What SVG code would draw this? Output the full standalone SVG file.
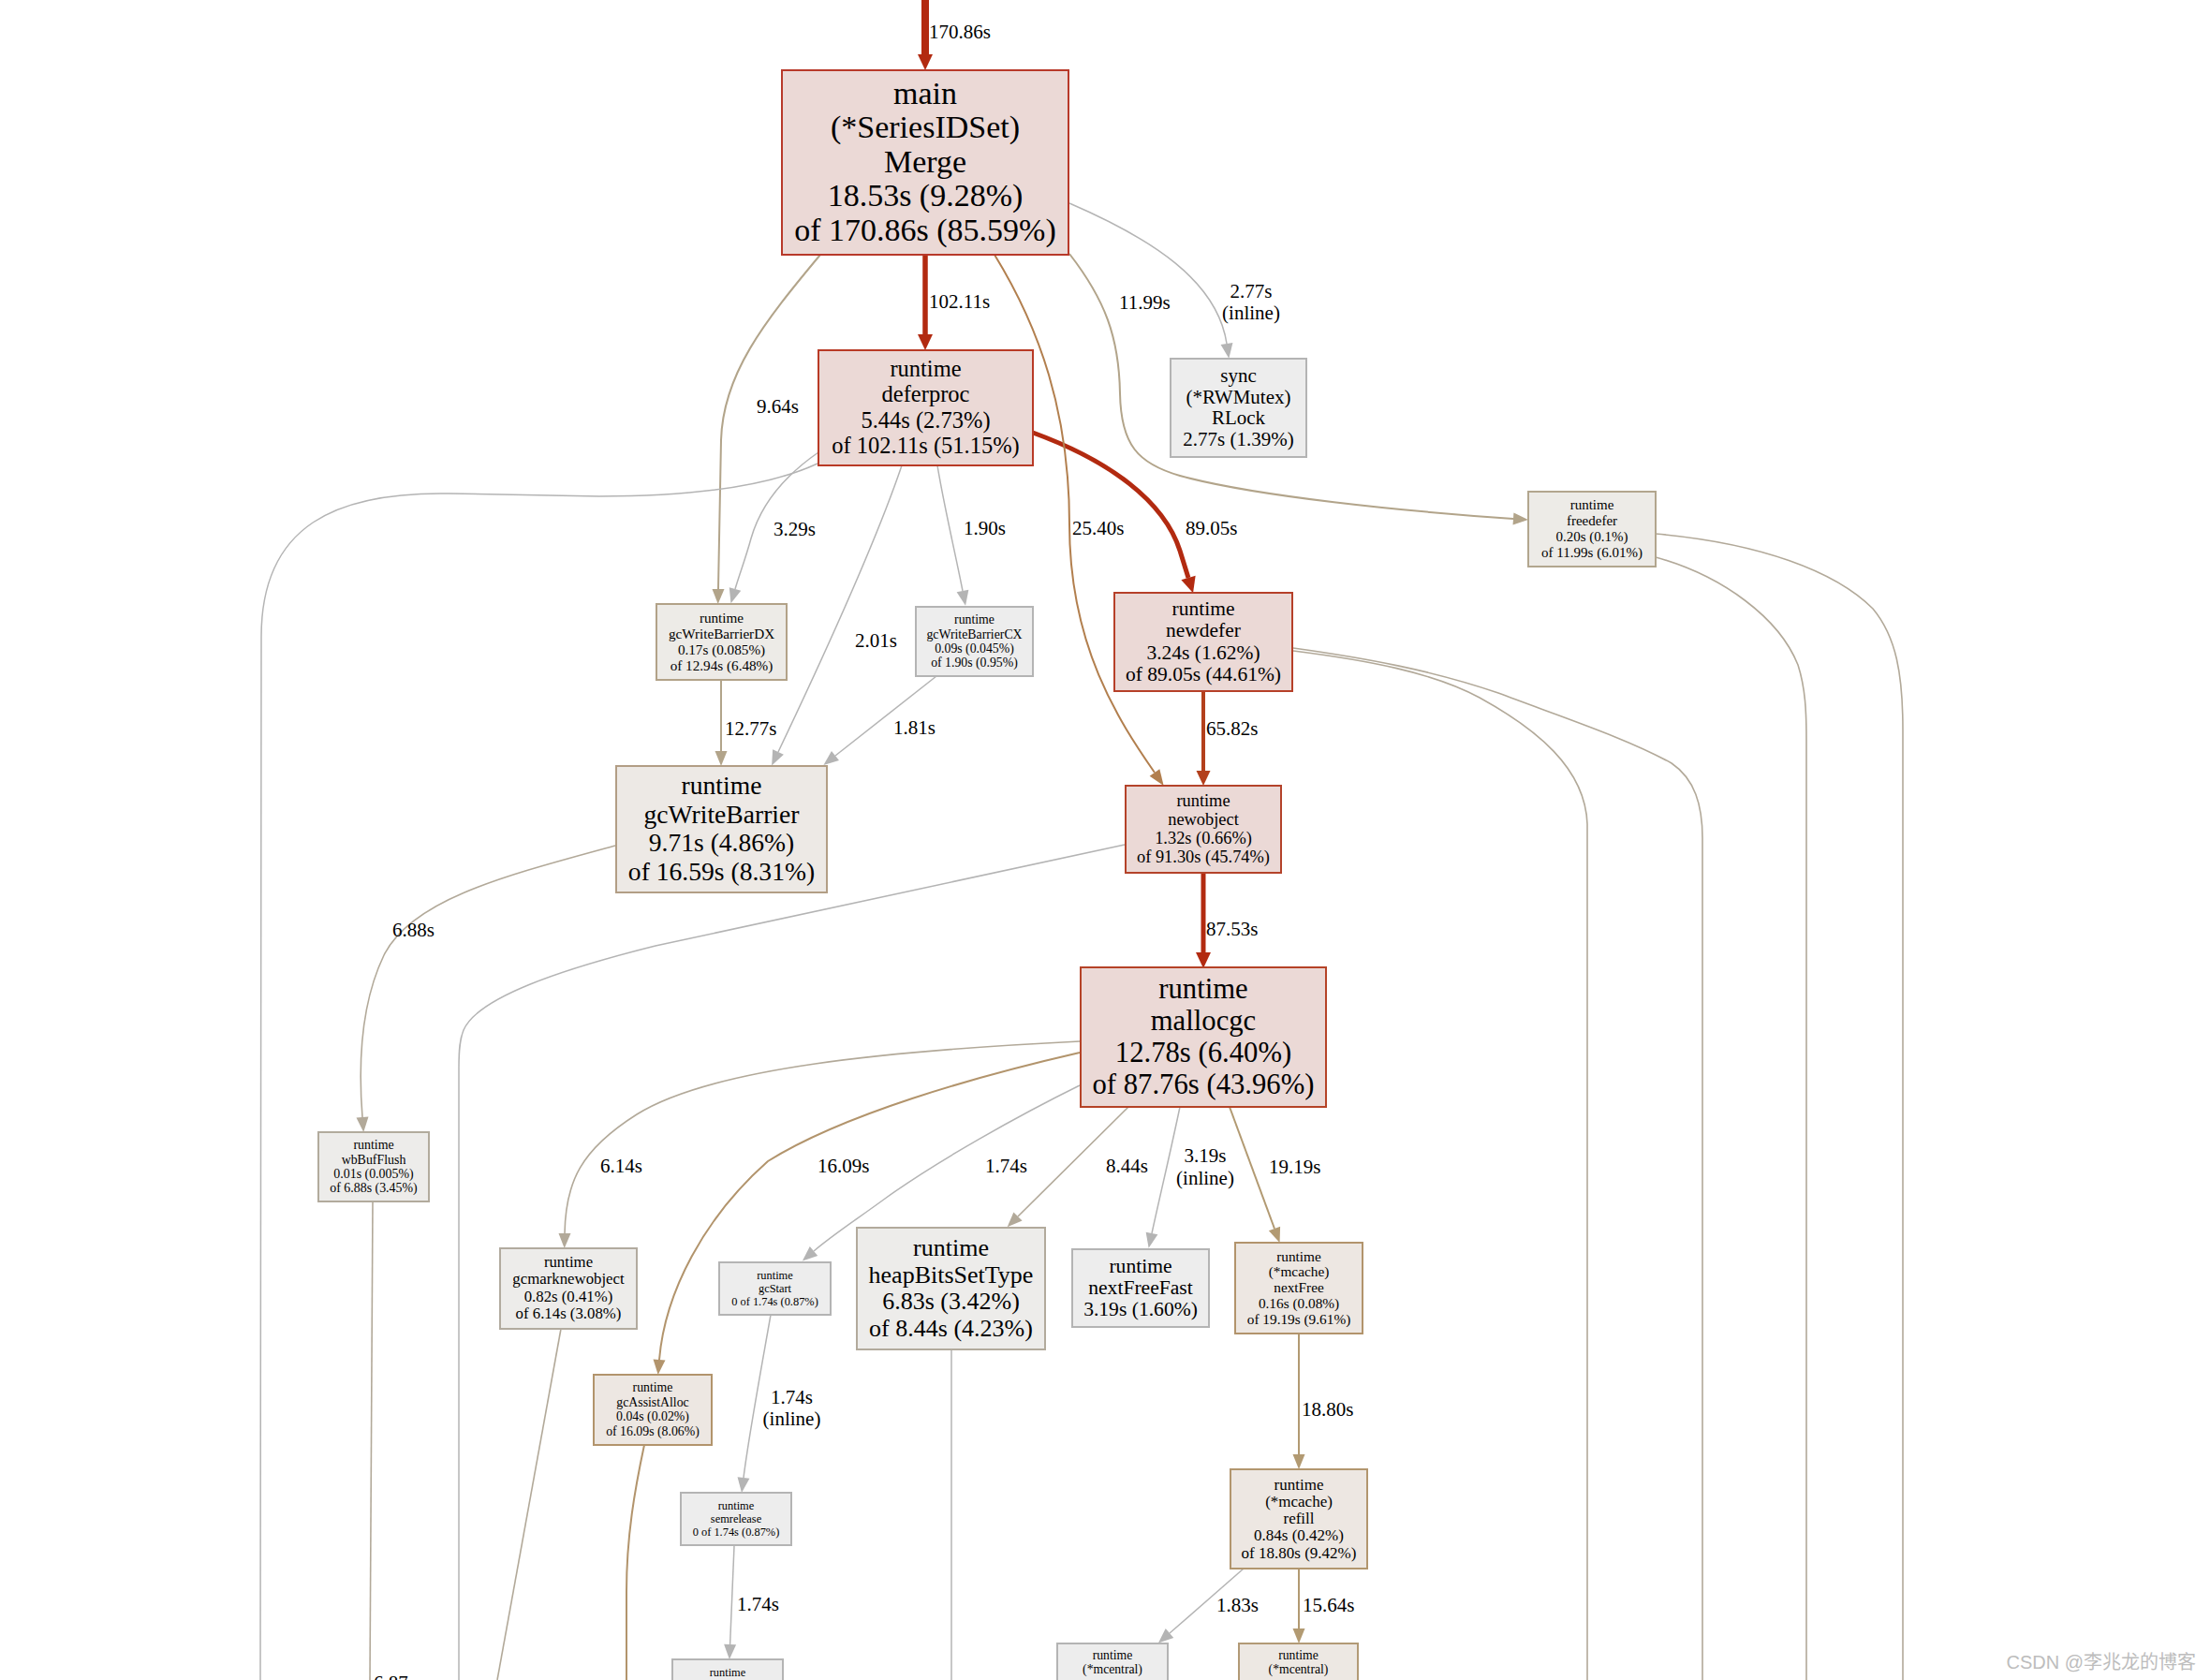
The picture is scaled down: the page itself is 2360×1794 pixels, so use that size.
<svg xmlns="http://www.w3.org/2000/svg" width="2360" height="1794" viewBox="0 0 2360 1794">
<style>
text{font-family:"Liberation Serif","Times New Roman",serif;fill:#000}
.node text{text-anchor:middle}
.node rect{stroke-width:2}
.lbl{font-size:21px}
.mid{text-anchor:middle}
.e{fill:none}
.red{stroke:#b22a10}
.red2{stroke:#b3401c}
.cop{stroke:#b27f4e;stroke-width:2}
.br{stroke:#b2946c;stroke-width:2}
.br2{stroke:#b29a72;stroke-width:2}
.tan{stroke:#b2a48a;stroke-width:2}
.tg{stroke:#b2a999;stroke-width:1.6}
.gr{stroke:#b4b4b4;stroke-width:1.5}
.hot{fill:#ebd9d6}
.gray{fill:#ededed;stroke:#b4b4b4}
.tanf{fill:#edebe7}
.brf{fill:#ede7e2}
</style>
<defs>
<marker id="mRed" markerUnits="userSpaceOnUse" markerWidth="20" markerHeight="20" viewBox="0 -10 20 20" refX="0" refY="0" orient="auto" overflow="visible"><path d="M0,-8L17,0L0,8z" fill="#b22a10"/></marker>
<marker id="mRed2" markerUnits="userSpaceOnUse" markerWidth="20" markerHeight="20" viewBox="0 -10 20 20" refX="0" refY="0" orient="auto" overflow="visible"><path d="M0,-7.5L16,0L0,7.5z" fill="#b3401c"/></marker>
<marker id="mCop" markerUnits="userSpaceOnUse" markerWidth="20" markerHeight="20" viewBox="0 -10 20 20" refX="0" refY="0" orient="auto" overflow="visible"><path d="M0,-6.5L17,0L0,6.5z" fill="#b27f4e"/></marker>
<marker id="mBr" markerUnits="userSpaceOnUse" markerWidth="20" markerHeight="20" viewBox="0 -10 20 20" refX="0" refY="0" orient="auto" overflow="visible"><path d="M0,-6.5L16,0L0,6.5z" fill="#b2946c"/></marker>
<marker id="mBr2" markerUnits="userSpaceOnUse" markerWidth="20" markerHeight="20" viewBox="0 -10 20 20" refX="0" refY="0" orient="auto" overflow="visible"><path d="M0,-6.5L16,0L0,6.5z" fill="#b29a72"/></marker>
<marker id="mTan" markerUnits="userSpaceOnUse" markerWidth="20" markerHeight="20" viewBox="0 -10 20 20" refX="0" refY="0" orient="auto" overflow="visible"><path d="M0,-6.5L16,0L0,6.5z" fill="#b2a48a"/></marker>
<marker id="mTg" markerUnits="userSpaceOnUse" markerWidth="20" markerHeight="20" viewBox="0 -10 20 20" refX="0" refY="0" orient="auto" overflow="visible"><path d="M0,-6.5L16,0L0,6.5z" fill="#b2a999"/></marker>
<marker id="mGr" markerUnits="userSpaceOnUse" markerWidth="20" markerHeight="20" viewBox="0 -10 20 20" refX="0" refY="0" orient="auto" overflow="visible"><path d="M0,-6.5L16,0L0,6.5z" fill="#b4b4b4"/></marker>
</defs>
<rect width="2360" height="1794" fill="#fff"/>

<g id="edges">
<path class="e red" stroke-width="8" d="M988,0 L988,58" marker-end="url(#mRed)"/>
<path class="e red" stroke-width="5.5" d="M988,272 L988,357" marker-end="url(#mRed)"/>
<path class="e red" stroke-width="5" d="M1103,462 C1185,492 1243,535 1260,588 L1269,617" marker-end="url(#mRed)"/>
<path class="e tan" d="M876,272 C815,345 772,400 770,470 L767,629" marker-end="url(#mTan)"/>
<path class="e gr" d="M874,483 C835,510 812,540 802,575 C796,597 790,612 785,629" marker-end="url(#mGr)"/>
<path class="e gr" d="M963,497 C935,580 880,700 831,803" marker-end="url(#mGr)"/>
<path class="e gr" d="M1001,497 C1008,540 1020,590 1028,631" marker-end="url(#mGr)"/>
<path class="e cop" d="M1062,272 C1110,350 1142,440 1142,560 C1142,690 1195,770 1233,825" marker-end="url(#mCop)"/>
<path class="e tan" d="M1142,271 C1180,320 1195,360 1196,420 C1197,475 1215,495 1260,508 C1340,530 1500,546 1616,554" marker-end="url(#mTan)"/>
<path class="e gr" d="M1142,217 C1230,255 1300,300 1310,367" marker-end="url(#mGr)"/>
<path class="e red2" stroke-width="4" d="M1285,738 L1285,823" marker-end="url(#mRed2)"/>
<path class="e red" stroke-width="5" d="M1285,932 L1285,1017" marker-end="url(#mRed)"/>
<path class="e tan" d="M770,726 L770,802" marker-end="url(#mTan)"/>
<path class="e gr" d="M1000,722 L892,807" marker-end="url(#mGr)"/>
<path class="e gr" d="M873,495 C830,515 760,530 640,530 L480,527 C360,525 279,560 279,680 L278,1794"/>
<path class="e gr" d="M1201,902 C1000,945 820,985 700,1010 C600,1035 510,1065 495,1100 C491,1110 490,1120 490,1140 L490,1794"/>
<path class="e tg" d="M657,903 C540,935 440,960 410,1020 C387,1068 382,1130 387,1193" marker-end="url(#mTg)"/>
<path class="e tg" d="M398,1283 L395,1794"/>
<path class="e tg" d="M1153,1112 C950,1122 760,1140 680,1190 C620,1228 604,1262 603,1317" marker-end="url(#mTg)"/>
<path class="e br" d="M1153,1124 C1040,1150 900,1190 820,1240 C752,1300 710,1380 704,1452" marker-end="url(#mBr)"/>
<path class="e gr" d="M1153,1159 C1090,1190 1000,1240 945,1280 C915,1302 890,1318 869,1336" marker-end="url(#mGr)"/>
<path class="e tg" d="M1205,1182 L1087,1299" marker-end="url(#mTg)"/>
<path class="e gr" d="M1260,1182 C1250,1230 1238,1280 1230,1317" marker-end="url(#mGr)"/>
<path class="e br2" d="M1313,1182 L1361,1312" marker-end="url(#mBr2)"/>
<path class="e gr" d="M823,1404 C815,1450 800,1530 794,1578" marker-end="url(#mGr)"/>
<path class="e gr" d="M784,1651 L779.6,1756" marker-end="url(#mGr)"/>
<path class="e br2" d="M1387,1424 L1387,1553" marker-end="url(#mBr2)"/>
<path class="e gr" d="M1328,1675 L1249,1744" marker-end="url(#mGr)"/>
<path class="e br2" d="M1387,1675 L1387,1739" marker-end="url(#mBr2)"/>
<path class="e gr" d="M1016,1441 L1016,1794"/>
<path class="e tg" d="M599,1419 L531,1794"/>
<path class="e br" d="M688,1543 C678,1590 669,1640 669,1700 L669,1794"/>
<path class="e tg" d="M1381,695 C1460,705 1530,718 1580,745 C1640,778 1693,820 1695,880 L1695,1794"/>
<path class="e tg" d="M1381,692 C1460,703 1530,716 1600,740 C1680,770 1740,790 1785,815 C1810,832 1818,860 1818,895 L1818,1794"/>
<path class="e tg" d="M1768,595 C1840,615 1900,660 1920,710 C1928,735 1929,760 1929,790 L1929,1794"/>
<path class="e tg" d="M1768,570 C1880,580 1960,610 2000,650 C2025,680 2032,720 2032,780 L2032,1794"/>

<g class="lbl">
<text x="992" y="41">170.86s</text>
<text x="992" y="329">102.11s</text>
<text x="808" y="441">9.64s</text>
<text x="1195" y="329.5">11.99s</text>
<text x="1336" y="318" class="mid">2.77s</text>
<text x="1336" y="341" class="mid">(inline)</text>
<text x="826" y="571.5">3.29s</text>
<text x="1029" y="571">1.90s</text>
<text x="1145" y="571">25.40s</text>
<text x="1266" y="571">89.05s</text>
<text x="913" y="691">2.01s</text>
<text x="774" y="785">12.77s</text>
<text x="954" y="784">1.81s</text>
<text x="1288" y="784.5">65.82s</text>
<text x="1288" y="999">87.53s</text>
<text x="419" y="999.5">6.88s</text>
<text x="641" y="1252">6.14s</text>
<text x="873" y="1252">16.09s</text>
<text x="1052" y="1252">1.74s</text>
<text x="1181" y="1252">8.44s</text>
<text x="1287" y="1240.5" class="mid">3.19s</text>
<text x="1287" y="1264.5" class="mid">(inline)</text>
<text x="1355" y="1252.5">19.19s</text>
<text x="845.5" y="1499" class="mid">1.74s</text>
<text x="845.5" y="1522" class="mid">(inline)</text>
<text x="1390" y="1511.5">18.80s</text>
<text x="787" y="1719.5">1.74s</text>
<text x="1299" y="1720.5">1.83s</text>
<text x="1391" y="1720.5">15.64s</text>
<text x="399" y="1804">6.87s</text>
</g>
</g>

<g id="main" class="node" font-size="34">
<rect x="835" y="75" width="306" height="197" class="hot" stroke="#b8392a"/>
<text x="988" y="110.7">main</text>
<text x="988" y="147.2">(*SeriesIDSet)</text>
<text x="988" y="183.7">Merge</text>
<text x="988" y="220.2">18.53s (9.28%)</text>
<text x="988" y="256.7">of 170.86s (85.59%)</text>
</g>
<g id="deferproc" class="node" font-size="24.5">
<rect x="874" y="374" width="229" height="123" class="hot" stroke="#b93a26"/>
<text x="988.5" y="401.9">runtime</text>
<text x="988.5" y="429.2">deferproc</text>
<text x="988.5" y="456.5">5.44s (2.73%)</text>
<text x="988.5" y="483.8">of 102.11s (51.15%)</text>
</g>
<g id="sync" class="node" font-size="21">
<rect x="1250" y="383" width="145" height="105" class="gray"/>
<text x="1322.5" y="407.9">sync</text>
<text x="1322.5" y="430.5">(*RWMutex)</text>
<text x="1322.5" y="453.1">RLock</text>
<text x="1322.5" y="475.7">2.77s (1.39%)</text>
</g>
<g id="freedefer" class="node" font-size="15">
<rect x="1632" y="525" width="136" height="80" class="tanf" stroke="#b2a68e"/>
<text x="1700" y="544.4">runtime</text>
<text x="1700" y="561.1">freedefer</text>
<text x="1700" y="577.8">0.20s (0.1%)</text>
<text x="1700" y="594.5">of 11.99s (6.01%)</text>
</g>
<g id="newdefer" class="node" font-size="21.5">
<rect x="1190" y="633" width="190" height="105" class="hot" stroke="#b64029"/>
<text x="1285" y="657.2">runtime</text>
<text x="1285" y="680.4">newdefer</text>
<text x="1285" y="703.6">3.24s (1.62%)</text>
<text x="1285" y="726.8">of 89.05s (44.61%)</text>
</g>
<g id="gcWriteBarrierDX" class="node" font-size="15.2">
<rect x="701" y="645" width="139" height="81" class="tanf" stroke="#b2a288"/>
<text x="770.5" y="664.8">runtime</text>
<text x="770.5" y="681.7">gcWriteBarrierDX</text>
<text x="770.5" y="698.6">0.17s (0.085%)</text>
<text x="770.5" y="715.5">of 12.94s (6.48%)</text>
</g>
<g id="gcWriteBarrierCX" class="node" font-size="13.8">
<rect x="978" y="648" width="125" height="74" class="gray"/>
<text x="1040.5" y="666.2">runtime</text>
<text x="1040.5" y="681.5">gcWriteBarrierCX</text>
<text x="1040.5" y="696.8">0.09s (0.045%)</text>
<text x="1040.5" y="712.1">of 1.90s (0.95%)</text>
</g>
<g id="gcWriteBarrier" class="node" font-size="27.6">
<rect x="658" y="818" width="225" height="135" fill="#ede9e5" stroke="#b29e85"/>
<text x="770.5" y="848">runtime</text>
<text x="770.5" y="878.5">gcWriteBarrier</text>
<text x="770.5" y="909">9.71s (4.86%)</text>
<text x="770.5" y="939.5">of 16.59s (8.31%)</text>
</g>
<g id="newobject" class="node" font-size="18.4">
<rect x="1202" y="839" width="166" height="93" class="hot" stroke="#b4432a"/>
<text x="1285" y="860.7">runtime</text>
<text x="1285" y="880.9">newobject</text>
<text x="1285" y="901.1">1.32s (0.66%)</text>
<text x="1285" y="921.3">of 91.30s (45.74%)</text>
</g>
<g id="mallocgc" class="node" font-size="30.7">
<rect x="1154" y="1033" width="262" height="149" class="hot" stroke="#b54327"/>
<text x="1285" y="1065.9">runtime</text>
<text x="1285" y="1099.8">mallocgc</text>
<text x="1285" y="1133.7">12.78s (6.40%)</text>
<text x="1285" y="1167.6">of 87.76s (43.96%)</text>
</g>
<g id="wbBufFlush" class="node" font-size="13.9">
<rect x="340" y="1209" width="118" height="74" fill="#edecea" stroke="#b2ab9d"/>
<text x="399" y="1227.1">runtime</text>
<text x="399" y="1242.5">wbBufFlush</text>
<text x="399" y="1257.9">0.01s (0.005%)</text>
<text x="399" y="1273.3">of 6.88s (3.45%)</text>
</g>
<g id="gcmarknewobject" class="node" font-size="16.8">
<rect x="534" y="1333" width="146" height="86" fill="#edecea" stroke="#b2ab9f"/>
<text x="607" y="1352.9">runtime</text>
<text x="607" y="1371.3">gcmarknewobject</text>
<text x="607" y="1389.7">0.82s (0.41%)</text>
<text x="607" y="1408.1">of 6.14s (3.08%)</text>
</g>
<g id="gcStart" class="node" font-size="12.4">
<rect x="768" y="1348" width="119" height="56" class="gray"/>
<text x="827.5" y="1365.6">runtime</text>
<text x="827.5" y="1379.7">gcStart</text>
<text x="827.5" y="1393.8">0 of 1.74s (0.87%)</text>
</g>
<g id="heapBitsSetType" class="node" font-size="26">
<rect x="915" y="1311" width="201" height="130" fill="#edecea" stroke="#b2aa9c"/>
<text x="1015.5" y="1340.9">runtime</text>
<text x="1015.5" y="1369.5">heapBitsSetType</text>
<text x="1015.5" y="1398.1">6.83s (3.42%)</text>
<text x="1015.5" y="1426.7">of 8.44s (4.23%)</text>
</g>
<g id="nextFreeFast" class="node" font-size="21.6">
<rect x="1145" y="1334" width="146" height="83" class="gray"/>
<text x="1218" y="1358.7">runtime</text>
<text x="1218" y="1382">nextFreeFast</text>
<text x="1218" y="1405.3">3.19s (1.60%)</text>
</g>
<g id="nextFree" class="node" font-size="15.3">
<rect x="1319" y="1327" width="136" height="97" class="brf" stroke="#b2946c"/>
<text x="1387" y="1346.7">runtime</text>
<text x="1387" y="1363.4">(*mcache)</text>
<text x="1387" y="1380.1">nextFree</text>
<text x="1387" y="1396.8">0.16s (0.08%)</text>
<text x="1387" y="1413.5">of 19.19s (9.61%)</text>
</g>
<g id="gcAssistAlloc" class="node" font-size="13.8">
<rect x="634" y="1468" width="126" height="75" class="brf" stroke="#b2946c"/>
<text x="697" y="1486.4">runtime</text>
<text x="697" y="1501.9">gcAssistAlloc</text>
<text x="697" y="1517.4">0.04s (0.02%)</text>
<text x="697" y="1532.9">of 16.09s (8.06%)</text>
</g>
<g id="semrelease" class="node" font-size="12.4">
<rect x="727" y="1594" width="118" height="56" class="gray"/>
<text x="786" y="1611.6">runtime</text>
<text x="786" y="1625.7">semrelease</text>
<text x="786" y="1639.8">0 of 1.74s (0.87%)</text>
</g>
<g id="runtime_bottom" class="node" font-size="12.4">
<rect x="718" y="1772" width="118" height="60" class="gray"/>
<text x="777" y="1789.6">runtime</text>
</g>
<g id="refill" class="node" font-size="17">
<rect x="1314" y="1569" width="146" height="106" class="brf" stroke="#b2966e"/>
<text x="1387" y="1590.5">runtime</text>
<text x="1387" y="1608.8">(*mcache)</text>
<text x="1387" y="1627.1">refill</text>
<text x="1387" y="1645.4">0.84s (0.42%)</text>
<text x="1387" y="1663.7">of 18.80s (9.42%)</text>
</g>
<g id="mcentral_a" class="node" font-size="13.7">
<rect x="1129" y="1755" width="118" height="70" class="gray"/>
<text x="1188" y="1772">runtime</text>
<text x="1188" y="1786.6">(*mcentral)</text>
</g>
<g id="mcentral_b" class="node" font-size="13.7">
<rect x="1323" y="1755" width="127" height="70" fill="#ede8e3" stroke="#b29a76"/>
<text x="1386.5" y="1772">runtime</text>
<text x="1386.5" y="1786.6">(*mcentral)</text>
</g>

<text x="2345" y="1782" text-anchor="end" font-size="20" style="font-family:'Liberation Sans','Noto Sans CJK SC',sans-serif;fill:#bdbdbd">CSDN @李兆龙的博客</text>
</svg>
